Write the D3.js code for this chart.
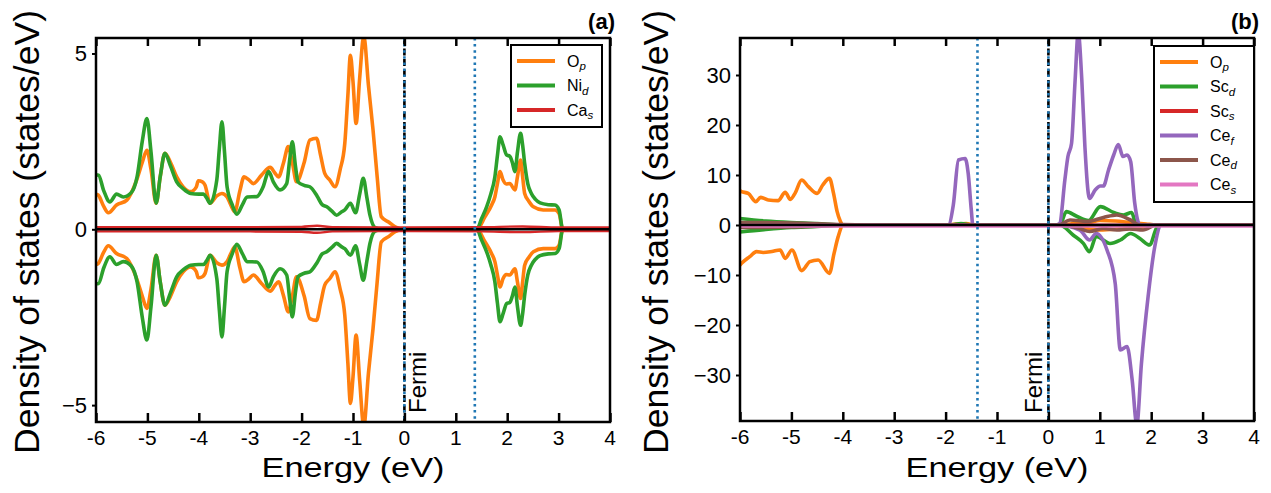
<!DOCTYPE html>
<html>
<head>
<meta charset="utf-8">
<script src="https://cdn.jsdelivr.net/npm/d3@7"></script>
<style>
  html, body { margin: 0; padding: 0; background: #fff; }
  svg { display: block; font-family: "Liberation Sans", Arial, sans-serif; }
</style>
</head>
<body>
<svg id="chart" width="1271" height="493"></svg>
<script>
// ---------- DATA ----------
const xTicks = [-6, -5, -4, -3, -2, -1, 0, 1, 2, 3, 4];
const yTicksA = [-5, 0, 5];
const yTicksB = [-30, -20, -10, 0, 10, 20, 30];
const gapLineA = 1.37;   // blue dotted line, panel (a)
const gapLineB = -1.38;  // blue dotted line, panel (b)

// Panel (a): [energy, DOS]
const aOpUp = [[-6.0,1.0],[-5.955,0.97],[-5.85,0.65],[-5.76,0.47],[-5.6,0.69],[-5.4,0.83],[-5.21,1.40],[-5.1,1.9],[-5.01,2.25],[-4.93,1.7],[-4.83,0.74],[-4.75,1.5],[-4.66,2.16],[-4.55,1.9],[-4.43,1.49],[-4.3,1.2],[-4.16,1.07],[-4.05,1.2],[-4.01,1.38],[-3.93,1.35],[-3.88,1.26],[-3.78,0.74],[-3.65,0.95],[-3.55,1.02],[-3.45,0.92],[-3.38,0.7],[-3.30,0.50],[-3.2,1.1],[-3.12,1.49],[-3.02,1.4],[-2.94,1.30],[-2.78,1.54],[-2.61,1.76],[-2.52,1.6],[-2.45,1.49],[-2.35,1.9],[-2.26,2.35],[-2.18,1.9],[-2.10,1.35],[-1.95,1.9],[-1.84,2.54],[-1.71,2.59],[-1.63,2.1],[-1.55,1.59],[-1.45,1.4],[-1.35,1.21],[-1.25,1.7],[-1.16,2.44],[-1.1,3.8],[-1.05,4.95],[-1.0,4.2],[-0.94,3.01],[-0.87,4.3],[-0.79,5.5],[-0.7,4.1],[-0.61,2.82],[-0.53,1.5],[-0.45,0.36],[-0.3,0.2],[-0.18,0.07],[0,0],[1.41,0],[1.57,0.36],[1.7,0.7],[1.76,0.92],[1.81,1.3],[1.86,1.64],[1.92,1.4],[1.98,1.29],[2.05,1.30],[2.15,1.12],[2.2,1.5],[2.26,1.97],[2.3,1.5],[2.34,1.02],[2.42,0.8],[2.51,0.64],[2.7,0.55],[2.93,0.55],[3.01,0.45],[3.08,0],[4,0]];
const aOpDn = [[-6.0,-1.0],[-5.955,-0.97],[-5.85,-0.65],[-5.76,-0.47],[-5.6,-0.69],[-5.4,-0.83],[-5.21,-1.40],[-5.1,-1.9],[-5.01,-2.25],[-4.93,-1.7],[-4.83,-0.74],[-4.75,-1.5],[-4.66,-2.16],[-4.55,-1.9],[-4.43,-1.49],[-4.3,-1.2],[-4.16,-1.07],[-4.05,-1.2],[-4.01,-1.38],[-3.93,-1.35],[-3.88,-1.26],[-3.78,-0.74],[-3.65,-0.95],[-3.55,-1.02],[-3.45,-0.92],[-3.38,-0.7],[-3.30,-0.50],[-3.2,-1.1],[-3.12,-1.49],[-3.02,-1.4],[-2.94,-1.30],[-2.78,-1.54],[-2.61,-1.76],[-2.52,-1.6],[-2.45,-1.49],[-2.35,-1.9],[-2.26,-2.35],[-2.18,-1.9],[-2.10,-1.35],[-1.95,-1.9],[-1.84,-2.54],[-1.71,-2.59],[-1.63,-2.1],[-1.55,-1.59],[-1.45,-1.4],[-1.35,-1.21],[-1.25,-1.7],[-1.16,-2.44],[-1.1,-3.8],[-1.05,-4.95],[-1.0,-4.2],[-0.94,-3.01],[-0.87,-4.3],[-0.79,-5.6],[-0.7,-4.1],[-0.61,-2.82],[-0.53,-1.5],[-0.45,-0.36],[-0.3,-0.2],[-0.18,-0.07],[0,0],[1.41,0],[1.57,-0.36],[1.7,-0.7],[1.76,-0.92],[1.81,-1.3],[1.86,-1.64],[1.92,-1.4],[1.98,-1.29],[2.05,-1.30],[2.15,-1.12],[2.2,-1.5],[2.26,-1.97],[2.3,-1.5],[2.34,-1.02],[2.42,-0.8],[2.51,-0.64],[2.7,-0.55],[2.93,-0.55],[3.01,-0.45],[3.08,0],[4,0]];
const aNiUp = [[-6.0,1.55],[-5.95,1.54],[-5.85,1.1],[-5.73,0.78],[-5.6,1.0],[-5.47,0.92],[-5.31,1.05],[-5.2,1.5],[-5.1,2.5],[-5.01,3.15],[-4.93,2.2],[-4.83,0.74],[-4.75,1.5],[-4.66,2.16],[-4.55,1.8],[-4.43,1.35],[-4.3,1.15],[-4.16,1.02],[-4.0,1.0],[-3.91,1.0],[-3.85,0.9],[-3.78,0.74],[-3.65,1.40],[-3.6,2.3],[-3.55,3.06],[-3.5,2.2],[-3.45,1.21],[-3.35,0.7],[-3.26,0.43],[-3.15,0.7],[-3.06,0.92],[-2.87,0.93],[-2.75,1.2],[-2.64,1.64],[-2.55,1.35],[-2.42,1.12],[-2.29,1.30],[-2.23,2.0],[-2.18,2.49],[-2.12,1.8],[-2.07,1.35],[-1.95,1.25],[-1.84,1.21],[-1.7,0.95],[-1.6,0.7],[-1.51,0.64],[-1.4,0.5],[-1.32,0.40],[-1.22,0.5],[-1.16,0.55],[-1.05,0.74],[-0.95,0.47],[-0.87,1.0],[-0.80,1.45],[-0.73,0.9],[-0.67,0.40],[-0.57,0.05],[-0.45,0.01],[0,0],[1.41,0],[1.5,0.3],[1.60,0.64],[1.68,1.0],[1.76,1.49],[1.81,2.1],[1.86,2.63],[1.92,2.4],[1.99,2.11],[2.05,2.08],[2.1,1.9],[2.15,1.64],[2.2,2.2],[2.26,2.73],[2.3,2.4],[2.34,1.87],[2.4,1.3],[2.47,1.02],[2.55,0.85],[2.64,0.75],[2.8,0.7],[2.93,0.69],[3.01,0.55],[3.08,0],[4,0]];
const aNiDn = [[-6.0,-1.55],[-5.95,-1.54],[-5.85,-1.1],[-5.73,-0.78],[-5.6,-1.0],[-5.47,-0.92],[-5.31,-1.05],[-5.2,-1.5],[-5.1,-2.5],[-5.01,-3.15],[-4.93,-2.2],[-4.83,-0.74],[-4.75,-1.5],[-4.66,-2.16],[-4.55,-1.8],[-4.43,-1.35],[-4.3,-1.15],[-4.16,-1.02],[-4.0,-1.0],[-3.91,-1.0],[-3.85,-0.9],[-3.78,-0.74],[-3.65,-1.40],[-3.6,-2.3],[-3.55,-3.06],[-3.5,-2.2],[-3.45,-1.21],[-3.35,-0.7],[-3.26,-0.43],[-3.15,-0.7],[-3.06,-0.92],[-2.87,-0.93],[-2.75,-1.2],[-2.64,-1.64],[-2.55,-1.35],[-2.42,-1.12],[-2.29,-1.30],[-2.23,-2.0],[-2.18,-2.49],[-2.12,-1.8],[-2.07,-1.35],[-1.95,-1.25],[-1.84,-1.21],[-1.7,-0.95],[-1.6,-0.7],[-1.51,-0.64],[-1.4,-0.5],[-1.32,-0.40],[-1.22,-0.5],[-1.16,-0.55],[-1.05,-0.74],[-0.95,-0.47],[-0.87,-1.0],[-0.80,-1.45],[-0.73,-0.9],[-0.67,-0.40],[-0.57,-0.05],[-0.45,-0.01],[0,0],[1.41,0],[1.5,-0.3],[1.60,-0.64],[1.68,-1.0],[1.76,-1.49],[1.81,-2.1],[1.86,-2.63],[1.92,-2.4],[1.99,-2.11],[2.05,-2.08],[2.1,-1.9],[2.15,-1.64],[2.2,-2.2],[2.26,-2.73],[2.3,-2.4],[2.34,-1.87],[2.4,-1.3],[2.47,-1.02],[2.55,-0.85],[2.64,-0.75],[2.8,-0.7],[2.93,-0.69],[3.01,-0.55],[3.08,0],[4,0]];
const aCaUp = [[-6,0.06],[-3,0.06],[-2,0.07],[-1.7,0.1],[-1.4,0.06],[0,0.05],[1.5,0.06],[2.3,0.08],[3,0.05],[4,0.05]];
const aCaDn = [[-6,-0.06],[-3,-0.06],[-2,-0.07],[-1.7,-0.1],[-1.4,-0.06],[0,-0.05],[1.5,-0.06],[2.3,-0.08],[3,-0.05],[4,-0.05]];

// Panel (b)
const bOpUp = [[-6,6.8],[-5.97,6.67],[-5.84,6.33],[-5.69,4.67],[-5.60,5.53],[-5.45,5.0],[-5.26,4.87],[-5.12,6.53],[-5.02,5.13],[-4.93,6.33],[-4.80,9.0],[-4.67,7.67],[-4.50,6.33],[-4.39,8.0],[-4.26,9.33],[-4.18,6.33],[-4.11,2.67],[-4.05,0.8],[-3.99,0],[-2,0],[-1.8,0.2],[-1.6,0.3],[-1.45,0],[0.2,0],[0.5,0.3],[0.8,0.5],[1.0,0.9],[1.3,0.8],[1.6,0.5],[1.9,0.2],[2.1,0],[4,0]];
const bOpDn = [[-6,-8.0],[-5.97,-7.67],[-5.81,-6.33],[-5.68,-5.33],[-5.55,-5.5],[-5.38,-5.3],[-5.22,-5.0],[-5.12,-6.67],[-4.99,-5.0],[-4.80,-9.13],[-4.64,-7.33],[-4.48,-7.0],[-4.26,-9.67],[-4.17,-5.67],[-4.09,-2.33],[-3.99,0],[0.2,0],[0.6,-0.5],[1.0,-1.0],[1.4,-0.8],[1.8,-0.5],[2.1,0],[4,0]];
const bScdUp = [[-6,1.3],[-5.5,0.8],[-5,0.5],[-4.5,0.3],[-4,0],[-1.9,0],[-1.7,0.3],[-1.5,0],[0.22,0],[0.35,2.67],[0.54,1.8],[0.78,0.9],[1.01,3.67],[1.27,2.5],[1.46,2.0],[1.62,2.5],[1.70,0.3],[1.78,0],[4,0]];
const bScdDn = [[-6,-1.4],[-5.5,-0.9],[-5,-0.5],[-4.5,-0.3],[-4,0],[0.22,0],[0.48,-2.0],[0.68,-3.67],[0.80,-5.33],[0.93,-2.3],[1.20,-3.7],[1.40,-3.0],[1.60,-1.7],[1.78,-2.7],[1.97,-4.0],[2.10,-0.7],[2.2,0],[4,0]];
const bScsUp = [[-6,0.1],[-4,0.05],[0,0.02],[1,0.1],[2,0.05],[4,0.02]];
const bScsDn = [[-6,-0.1],[-4,-0.05],[0,-0.02],[1,-0.1],[2,-0.05],[4,-0.02]];
const bCefUp = [[-6,0],[-1.95,0],[-1.85,4],[-1.75,13.0],[-1.62,13.3],[-1.56,10.3],[-1.5,3],[-1.47,0],[0.15,0],[0.22,0.3],[0.32,9.0],[0.38,13.7],[0.45,16.3],[0.52,29],[0.58,38.5],[0.65,29],[0.71,15.7],[0.80,5.33],[0.91,7.0],[1.01,7.8],[1.07,7.8],[1.17,11],[1.27,14],[1.36,16.1],[1.45,13.7],[1.53,14],[1.60,12.7],[1.68,4.33],[1.78,0],[4,0]];
const bCefDn = [[-6,0],[0.17,0],[0.61,-1],[0.80,-3],[0.93,-1.7],[1.14,-5],[1.30,-11.7],[1.40,-25],[1.53,-24.3],[1.63,-31],[1.72,-40],[1.81,-27.7],[1.94,-14.3],[2.07,-4.3],[2.20,0],[4,0]];
const bCedUp = [[-6,0.5],[-5,0.4],[-4,0.1],[-3,0],[0.2,0],[0.42,1.0],[0.75,0.7],[1.07,1.5],[1.33,2.0],[1.58,1.1],[1.78,0],[4,0]];
const bCedDn = [[-6,-0.5],[-5,-0.4],[-4,-0.1],[-3,0],[0.25,0],[0.61,-0.7],[0.80,-1.3],[1.07,-0.7],[1.33,-1.0],[1.58,-0.8],[1.84,-1.0],[2.1,0],[4,0]];
const bCesUp = [[-6,0.05],[4,0.05]];
const bCesDn = [[-6,-0.35],[4,-0.35]];

const legendA = ["O", "Ni", "Ca"];
const legendSubA = ["p", "d", "s"];
const legendB = ["O", "Sc", "Sc", "Ce", "Ce", "Ce"];
const legendSubB = ["p", "d", "s", "f", "d", "s"];

// ---------- STYLE ----------
const C = { orange: "#ff7f0e", green: "#2ca02c", red: "#d62728", purple: "#9467bd", brown: "#8c564b", pink: "#e377c2", blue: "#1f77b4" };
const FONT = '"Liberation Sans", Arial, sans-serif';
const svg = d3.select("#chart");

function panel(cfg) {
  const { left, right, top, bottom, yDomain, yTicks, series, legend, legendBox, label, fermiX, gapLine, yLabelX, id } = cfg;
  const x = d3.scaleLinear().domain([-6, 4]).range([left, right]);
  const y = d3.scaleLinear().domain(yDomain).range([bottom, top]);
  const g = svg.append("g");

  g.append("clipPath").attr("id", "clip" + id).append("rect")
    .attr("x", left).attr("y", top).attr("width", right - left).attr("height", bottom - top);

  const plot = g.append("g").attr("clip-path", `url(#clip${id})`);

  const line = d3.line().x(d => x(d[0])).y(d => y(d[1])).curve(d3.curveMonotoneX);
  series.forEach(s => {
    s.data.forEach(arr => {
      plot.append("path").datum(arr).attr("d", line)
        .attr("fill", "none").attr("stroke", s.color).attr("stroke-width", s.width || 3.6)
        .attr("stroke-linejoin", "round").attr("stroke-linecap", "round");
    });
  });

  // zero line on top of the curves
  plot.append("line").attr("x1", left).attr("x2", right).attr("y1", y(0)).attr("y2", y(0))
    .attr("stroke", "#000").attr("stroke-width", 2.6);

  // vertical lines
  plot.append("line").attr("x1", x(0)).attr("x2", x(0)).attr("y1", top).attr("y2", bottom)
    .attr("stroke", "#000").attr("stroke-width", 2.6).attr("stroke-dasharray", "7,3.5");
  [0, gapLine].forEach(v => {
    plot.append("line").attr("x1", x(v)).attr("x2", x(v)).attr("y1", top).attr("y2", bottom)
      .attr("stroke", C.blue).attr("stroke-width", 2.6).attr("stroke-dasharray", "2.5,3.6");
  });

  // axes frame
  g.append("rect").attr("x", left).attr("y", top).attr("width", right - left).attr("height", bottom - top)
    .attr("fill", "none").attr("stroke", "#000").attr("stroke-width", 2.5);

  // x axis (ticks inward) bottom and top
  const xb = g.append("g").attr("transform", `translate(0,${bottom})`)
    .call(d3.axisTop(x).tickValues(xTicks).tickSize(9).tickFormat(""));
  const xt = g.append("g").attr("transform", `translate(0,${top})`)
    .call(d3.axisBottom(x).tickValues(xTicks).tickSize(8).tickFormat(""));
  [xb, xt].forEach(a => { a.select(".domain").remove(); a.selectAll("line").attr("stroke", "#000").attr("stroke-width", 2.5); });
  g.append("g").selectAll("text").data(xTicks).join("text")
    .attr("transform", d => `translate(${x(d)},${bottom + 23})`)
    .attr("text-anchor", "middle")
    .attr("font-family", FONT).attr("font-size", 21).attr("fill", "#000")
    .text(d => d < 0 ? "-" + Math.abs(d) : String(d));

  // y axis (ticks outward)
  const ya = g.append("g").attr("transform", `translate(${left},0)`)
    .call(d3.axisLeft(y).tickValues(yTicks).tickSize(4).tickPadding(5)
      .tickFormat(d => d < 0 ? "\u2212" + Math.abs(d) : String(d)));
  ya.select(".domain").remove();
  ya.selectAll("line").attr("stroke", "#000").attr("stroke-width", 2);
  ya.selectAll("text").attr("font-family", FONT).attr("font-size", 22).attr("fill", "#000");

  // labels
  g.append("text").attr("transform", `translate(${(left + right) / 2},477) scale(1.27,1)`).attr("text-anchor", "middle")
    .attr("font-family", FONT).attr("font-size", 27).text("Energy (eV)");
  g.append("text").attr("transform", `translate(${yLabelX},${232}) rotate(-90)`).attr("text-anchor", "middle")
    .attr("font-family", FONT).attr("font-size", 35.5).text("Density of states (states/eV)");
  g.append("text").attr("x", right + 5).attr("y", 29).attr("text-anchor", "end")
    .attr("font-family", FONT).attr("font-weight", "bold").attr("font-size", 22).text(label);

  // Fermi
  g.append("text").attr("transform", `translate(${x(0) + fermiX},${413}) rotate(-90)`)
    .attr("font-family", FONT).attr("font-size", 24).text("Fermi");

  // legend
  const lb = legendBox;
  const lg = g.append("g");
  lg.append("rect").attr("x", lb.x).attr("y", lb.y).attr("width", lb.w).attr("height", lb.h)
    .attr("fill", "#fff").attr("stroke", "#000").attr("stroke-width", 2);
  legend.names.forEach((nm, i) => {
    const yy = lb.y + lb.first + i * lb.step;
    lg.append("line").attr("x1", lb.x + 6).attr("x2", lb.x + 44).attr("y1", yy).attr("y2", yy)
      .attr("stroke", legend.colors[i]).attr("stroke-width", 4);
    const t = lg.append("text").attr("x", lb.x + 56).attr("y", yy + 5.5)
      .attr("font-family", FONT).attr("font-size", 16).attr("fill", "#000");
    t.append("tspan").text(nm);
    t.append("tspan").attr("font-size", 11.5).attr("font-style", "italic").attr("dy", 3.5).text(legend.subs[i]);
  });
}

panel({
  id: "a", left: 96, right: 610, top: 38, bottom: 422, yDomain: [-5.48, 5.44], yTicks: yTicksA,
  series: [
    { color: C.orange, data: [aOpUp, aOpDn] },
    { color: C.green, data: [aNiUp, aNiDn] },
    { color: C.red, data: [aCaUp, aCaDn], width: 2.4 }
  ],
  legend: { names: legendA, subs: legendSubA, colors: [C.orange, C.green, C.red] },
  legendBox: { x: 511, y: 45, w: 91, h: 82, first: 16, step: 24.5 },
  label: "(a)", fermiX: 22, gapLine: gapLineA, yLabelX: 39
});

panel({
  id: "b", left: 740, right: 1254, top: 38, bottom: 421, yDomain: [-39.2, 37.4], yTicks: yTicksB,
  series: [
    { color: C.orange, data: [bOpUp, bOpDn] },
    { color: C.green, data: [bScdUp, bScdDn] },
    { color: C.red, data: [bScsUp, bScsDn], width: 2.2 },
    { color: C.purple, data: [bCefUp, bCefDn] },
    { color: C.brown, data: [bCedUp, bCedDn] },
    { color: C.pink, data: [bCesUp, bCesDn], width: 2.2 }
  ],
  legend: { names: legendB, subs: legendSubB, colors: [C.orange, C.green, C.red, C.purple, C.brown, C.pink] },
  legendBox: { x: 1154, y: 46, w: 100, h: 156, first: 16, step: 24.5 },
  label: "(b)", fermiX: -6, gapLine: gapLineB, yLabelX: 668
});
</script>
</body>
</html>
